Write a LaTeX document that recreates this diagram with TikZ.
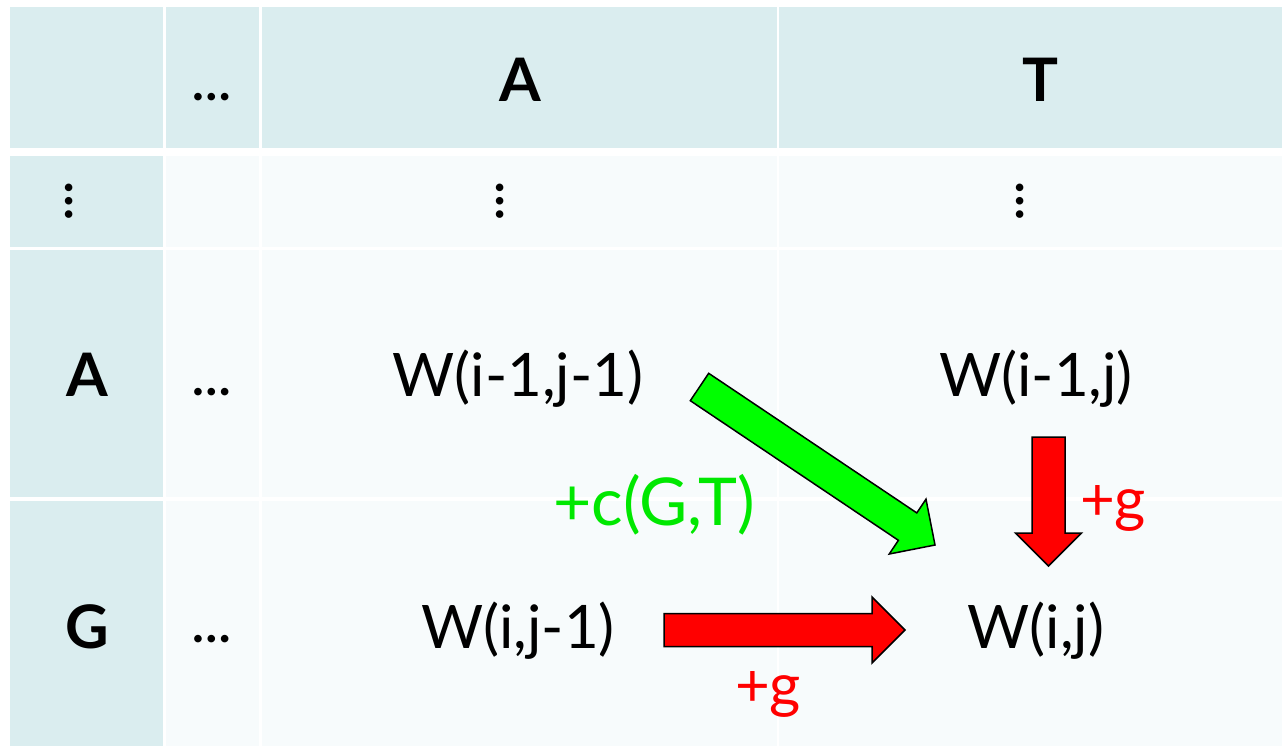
\documentclass[tikz,border=0pt]{standalone}
\usepackage{fontspec}
\setmainfont{Lato}
\usetikzlibrary{calc}
\definecolor{cellhead}{HTML}{DAEDEF}
\definecolor{cellbody}{HTML}{F7FBFC}
\definecolor{arrowgreen}{HTML}{00FF00}
\definecolor{textgreen}{HTML}{00E800}
\definecolor{arrowred}{HTML}{FF0000}
\providecommand{\ink}{black}
% block arrow from #1 to #2, filled with #3
\newcommand{\blockarrow}[3]{%
  \coordinate (hb) at ($(#2)!33pt!(#1)$);
  \draw[\ink, line width = 1.5pt, line join = miter, fill = #3]
    ($(#1)!16.5pt!90:(#2)$) -- ($(hb)!16.5pt!-90:(#1)$) -- ($(hb)!33pt!-90:(#1)$)
    -- (#2) -- ($(hb)!33pt!90:(#1)$) -- ($(hb)!16.5pt!90:(#1)$)
    -- ($(#1)!16.5pt!-90:(#2)$) -- cycle;
}

\begin{document}
\begin{tikzpicture}[x = 1pt, y = -1pt,
    wtext/.style = {anchor = base, inner sep = 0pt, text = \ink, font = \fontsize{60}{72}\selectfont},
    headtext/.style = {wtext, font = \bfseries\fontsize{60}{72}\selectfont},
    dotstext/.style = {inner sep = 0pt, text = \ink, font = \bfseries\fontsize{50}{60}\selectfont},
    costtext/.style = {anchor = base, inner sep = 0pt, font = \fontsize{66}{78}\selectfont}]
    \useasboundingbox (0, 0) rectangle (1282, 746);
    \fill[white] (0, 0) rectangle (1282, 746);

    % header row and first column
    \foreach \xa/\xb in {10/163, 166/259, 262/777, 779/1282}
      \fill[cellhead] (\xa, 7) rectangle (\xb, 148);
    \foreach \ya/\yb in {156/247, 250/497, 501/746}
      \fill[cellhead] (10, \ya) rectangle (163, \yb);
    % body cells
    \foreach \ya/\yb in {156/247, 250/497, 501/746}
      \foreach \xa/\xb in {166/259, 262/777, 779/1282}
        \fill[cellbody] (\xa, \ya) rectangle (\xb, \yb);

    % headers
    \node[dotstext] (hdots) at (212, 97) {…};
    \node[headtext] (hA) at (520, 102) {A};
    \node[headtext] (hT) at (1040, 102) {T};
    \node[dotstext, rotate = 90] (vdots1) at (69, 201) {…};
    \node[dotstext, rotate = 90] (vdots2) at (500, 201) {…};
    \node[dotstext, rotate = 90] (vdots3) at (1020, 201) {…};
    \node[headtext] (rA) at (87, 396) {A};
    \node[dotstext] (rAdots) at (212, 392) {…};
    \node[headtext] (rG) at (87, 648) {G};
    \node[dotstext] (rGdots) at (212, 639) {…};

    % cells
    \node[wtext] (wdiag) at (518, 396) {W(i-1,j-1)};
    \node[wtext] (wup) at (1036, 396) {W(i-1,j)};
    \node[wtext] (wleft) at (518, 648) {W(i,j-1)};
    \node[wtext] (wcur) at (1036, 648) {W(i,j)};

    % arrows
    \coordinate (diagtail) at (699.5, 387);
    \coordinate (diagtip) at (935, 545);
    \coordinate (uptail) at (1048.5, 437);
    \coordinate (uptip) at (1048.5, 566);
    \coordinate (lefttail) at (664, 630);
    \coordinate (lefttip) at (905, 630);
    \blockarrow{diagtail}{diagtip}{arrowgreen}
    \blockarrow{uptail}{uptip}{arrowred}
    \blockarrow{lefttail}{lefttip}{arrowred}

    \node[costtext, text = textgreen] (cmatch) at (654, 525) {+c(G,T)};
    \node[costtext, text = arrowred, font = \fontsize{60}{70}\selectfont] (gup) at (1113, 520) {+g};
    \node[costtext, text = arrowred, font = \fontsize{60}{70}\selectfont] (gleft) at (768, 706) {+g};
\end{tikzpicture}
\end{document}
